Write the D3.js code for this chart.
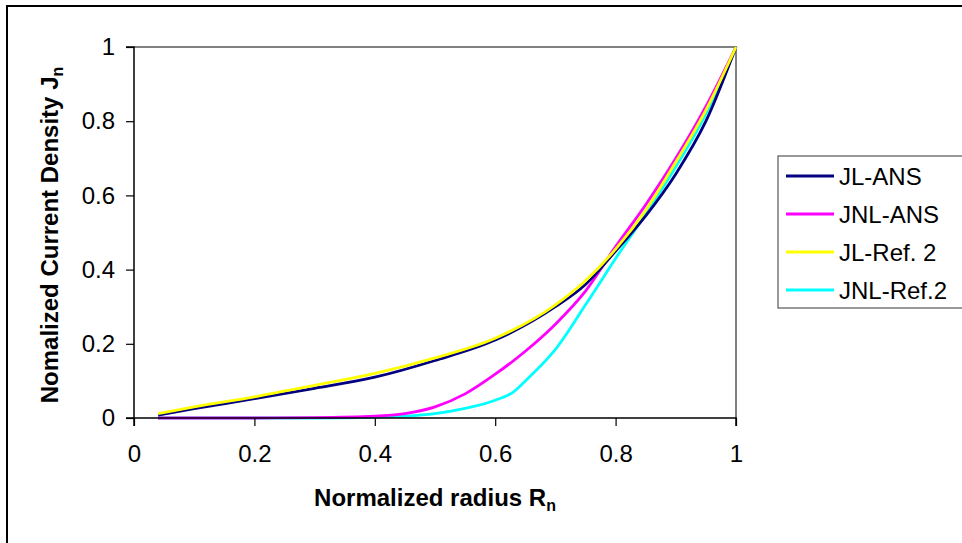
<!DOCTYPE html>
<html><head><meta charset="utf-8">
<script src="https://cdn.jsdelivr.net/npm/d3@7"></script>
<style>body{margin:0;background:#fff}svg{display:block;font-family:"Liberation Sans",Arial,sans-serif}</style>
</head><body><svg id="c" width="962" height="543"></svg>
<script>
const xTicks = [0, 0.2, 0.4, 0.6, 0.8, 1];
const yTicks = [0, 0.2, 0.4, 0.6, 0.8, 1];
const xTickLabels = ["0", "0.2", "0.4", "0.6", "0.8", "1"];
const yTickLabels = ["0", "0.2", "0.4", "0.6", "0.8", "1"];
const seriesNames = ["JL-ANS", "JNL-ANS", "JL-Ref. 2", "JNL-Ref.2"];
const seriesColors = ["#000080", "#ff00ff", "#ffff00", "#00ffff"];
const rJL = [0.04, 0.1, 0.2, 0.3, 0.4, 0.5, 0.6, 0.7, 0.75, 0.8, 0.85, 0.9, 0.95, 1];
const jlAns = [0.008, 0.025, 0.052, 0.08, 0.11, 0.155, 0.21, 0.3, 0.36, 0.45, 0.545, 0.658, 0.8, 1];
const jlRef = [0.012, 0.03, 0.057, 0.088, 0.12, 0.162, 0.215, 0.305, 0.37, 0.455, 0.56, 0.69, 0.83, 1];
const rJNL = [0.04, 0.1, 0.2, 0.3, 0.4, 0.45, 0.5, 0.55, 0.6, 0.65, 0.7, 0.75, 0.8, 0.85, 0.9, 0.95, 1];
const jnlAns = [0, 0, 0, 0.001, 0.005, 0.012, 0.03, 0.065, 0.118, 0.18, 0.253, 0.342, 0.462, 0.575, 0.7, 0.84, 1];
const rRef2 = [0.04, 0.1, 0.2, 0.3, 0.4, 0.45, 0.5, 0.55, 0.6, 0.63, 0.65, 0.7, 0.75, 0.8, 0.85, 0.9, 0.95, 1];
const jnlRef = [0, 0, 0, 0, 0.002, 0.005, 0.012, 0.026, 0.048, 0.07, 0.1, 0.185, 0.305, 0.43, 0.55, 0.677, 0.82, 1];

const svg = d3.select("#c");
const L = 134, R = 736, T = 47, B = 418;
const FONT = '"Liberation Sans",Arial,sans-serif';
const x = d3.scaleLinear().domain([0, 1]).range([L, R]);
const y = d3.scaleLinear().domain([0, 1]).range([B, T]);

svg.append("rect").attr("x", 7).attr("y", 6).attr("width", 1000).attr("height", 600)
  .attr("fill", "#fff").attr("stroke", "#000").attr("stroke-width", 2);

svg.append("path").attr("d", `M${L},${T}H${R}V${B}`).attr("fill", "none")
  .attr("stroke", "#808080").attr("stroke-width", 2);

const series = [
  {name: seriesNames[0], xs: rJL, ys: jlAns, c: seriesColors[0]},
  {name: seriesNames[1], xs: rJNL, ys: jnlAns, c: seriesColors[1]},
  {name: seriesNames[2], xs: rJL, ys: jlRef, c: seriesColors[2]},
  {name: seriesNames[3], xs: rRef2, ys: jnlRef, c: seriesColors[3]}
];
const line = d3.line().x(d => x(d[0])).y(d => y(d[1])).curve(d3.curveMonotoneX);
[3, 1, 0, 2].forEach(i => {
  const s = series[i];
  svg.append("path").datum(s.xs.map((v, k) => [v, s.ys[k]]))
    .attr("d", line).attr("fill", "none").attr("stroke", s.c)
    .attr("stroke-width", 2.8).attr("stroke-linejoin", "round");
});

const xAxis = d3.axisBottom(x).tickValues(xTicks).tickFormat((d, i) => xTickLabels[i]).tickSize(8).tickPadding(19);
const yAxis = d3.axisLeft(y).tickValues(yTicks).tickFormat((d, i) => yTickLabels[i]).tickSize(8).tickPadding(11);
const gx = svg.append("g").attr("transform", `translate(0,${B})`).call(xAxis);
const gy = svg.append("g").attr("transform", `translate(${L},0)`).call(yAxis);
[gx, gy].forEach(g => {
  g.select(".domain").attr("stroke", "#000").attr("stroke-width", 1.5);
  g.selectAll(".tick line").attr("stroke", "#000").attr("stroke-width", 1.2);
  g.selectAll("text").attr("font-size", 24).attr("fill", "#000").attr("font-family", FONT);
});
gy.select(".domain").attr("d", `M-8,${B}H0V${T}H-8`);
gx.select(".domain").attr("d", `M${L},8V0H${R}V8`);

const xt = svg.append("text").attr("x", 435).attr("y", 506).attr("text-anchor", "middle")
  .attr("font-size", 24).attr("font-weight", "bold");
xt.append("tspan").text("Normalized radius R");
xt.append("tspan").attr("font-size", 16).attr("dy", 5).text("n");

const yt = svg.append("text").attr("transform", "translate(58,235) rotate(-90)")
  .attr("text-anchor", "middle").attr("font-size", 24).attr("font-weight", "bold");
yt.append("tspan").text("Nomalized Current Density J");
yt.append("tspan").attr("font-size", 16).attr("dy", 5).text("n");

const lg = svg.append("g");
lg.append("rect").attr("x", 778).attr("y", 156).attr("width", 200).attr("height", 152)
  .attr("fill", "#fff").attr("stroke", "#555").attr("stroke-width", 1.2);
series.forEach((s, i) => {
  const yy = 176 + i * 38;
  lg.append("line").attr("x1", 786).attr("x2", 834).attr("y1", yy).attr("y2", yy)
    .attr("stroke", s.c).attr("stroke-width", 2.8);
  lg.append("text").attr("x", 839).attr("y", yy + 9).attr("font-size", 24).text(s.name);
});
</script></body></html>
